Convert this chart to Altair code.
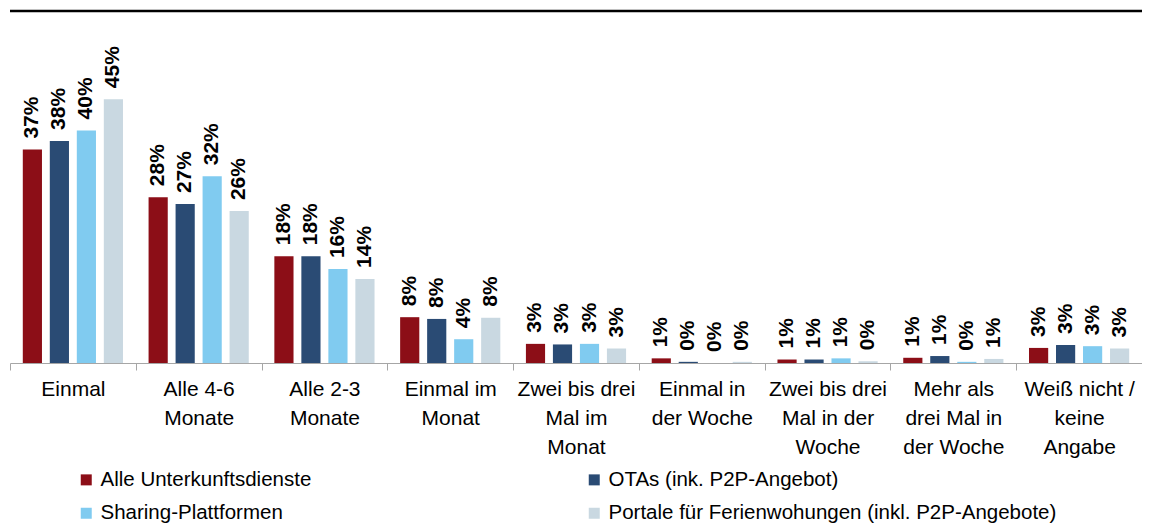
import altair as alt
import pandas as pd

categories = [
    "Einmal",
    "Alle 4-6|Monate",
    "Alle 2-3|Monate",
    "Einmal im|Monat",
    "Zwei bis drei|Mal im|Monat",
    "Einmal in|der Woche",
    "Zwei bis drei|Mal in der|Woche",
    "Mehr als|drei Mal in|der Woche",
    "Weiß nicht /|keine|Angabe",
]
series = [
    "Alle Unterkunftsdienste",
    "OTAs (ink. P2P-Angebot)",
    "Sharing-Plattformen",
    "Portale für Ferienwohungen (inkl. P2P-Angebote)",
]
colors = ["#8C0E17", "#2A4B74", "#80CBF0", "#C9D8E1"]

alle_vals = [36.8, 28.6, 18.4, 7.9, 3.3, 0.8, 0.6, 0.9, 2.6]
otas_vals = [38.3, 27.4, 18.4, 7.6, 3.2, 0.2, 0.6, 1.2, 3.1]
sharing_vals = [40.1, 32.2, 16.2, 4.1, 3.3, 0.0, 0.8, 0.2, 2.9]
portale_vals = [45.5, 26.2, 14.5, 7.8, 2.5, 0.2, 0.3, 0.7, 2.5]

alle_labels = ["37%", "28%", "18%", "8%", "3%", "1%", "1%", "1%", "3%"]
otas_labels = ["38%", "27%", "18%", "8%", "3%", "0%", "1%", "1%", "3%"]
sharing_labels = ["40%", "32%", "16%", "4%", "3%", "0%", "1%", "0%", "3%"]
portale_labels = ["45%", "26%", "14%", "8%", "3%", "0%", "0%", "1%", "3%"]

all_vals = [alle_vals, otas_vals, sharing_vals, portale_vals]
all_labels = [alle_labels, otas_labels, sharing_labels, portale_labels]

rows = []
for s, vals, labs in zip(series, all_vals, all_labels):
    for c, v, l in zip(categories, vals, labs):
        rows.append({"Kategorie": c, "Serie": s, "Wert": v, "Label": l})
df = pd.DataFrame(rows)

FONT = "Liberation Sans"
W = 1132
H = 352

x_enc = alt.X(
    "Kategorie:N",
    sort=categories,
    scale=alt.Scale(paddingInner=0, paddingOuter=0),
    axis=alt.Axis(
        title=None,
        labelAngle=0,
        tickBand="extent",
        domainColor="#A6A6A6",
        tickColor="#A6A6A6",
        tickSize=7,
        labelFont=FONT,
        labelFontSize=21,
        labelColor="#000000",
        labelLineHeight=29,
        labelPadding=8,
        labelOverlap=False,
        labelBound=False,
        labelLimit=0,
        labelExpr="split(datum.label, '|')",
    ),
)
xo_enc = alt.XOffset(
    "Serie:N",
    sort=series,
    scale=alt.Scale(paddingInner=0.29, paddingOuter=0.474),
)
y_enc = alt.Y(
    "Wert:Q",
    scale=alt.Scale(domain=[0, 60.7], nice=False, zero=True),
    axis=None,
)

base = alt.Chart(df)

bars = base.mark_bar().encode(
    x=x_enc,
    xOffset=xo_enc,
    y=y_enc,
    color=alt.Color(
        "Serie:N",
        sort=series,
        scale=alt.Scale(domain=series, range=colors),
        legend=alt.Legend(
            title=None,
            orient="none",
            direction="horizontal",
            legendX=66,
            legendY=458.5,
            columns=2,
            columnPadding=272,
            rowPadding=12.5,
            padding=0,
            symbolType="square",
            symbolSize=121,
            symbolStrokeWidth=0,
            labelOffset=4,
            labelFont=FONT,
            labelFontSize=20.5,
            labelColor="#000000",
            labelLimit=0,
        ),
    ),
)

texts = base.mark_text(
    angle=270,
    align="left",
    baseline="middle",
    dx=11,
    font=FONT,
    fontSize=21,
    fontWeight="bold",
    color="#000000",
).encode(
    x=alt.X("Kategorie:N", sort=categories),
    xOffset=alt.XOffset("Serie:N", sort=series),
    y=alt.Y("Wert:Q"),
    text="Label:N",
)

top_line = alt.Chart(pd.DataFrame({"a": [0]})).mark_rule(
    color="#000000", strokeWidth=2.5
).encode(x=alt.value(0), x2=alt.value(W), y=alt.value(0))

chart = (
    alt.layer(bars, texts, top_line)
    .properties(
        width=W,
        height=H,
        padding={"left": 2, "top": 3, "right": 0, "bottom": 161},
        autosize=alt.AutoSizeParams(type="none"),
    )
    .configure_view(stroke=None)
)

chart.save("out.html", embed_options={"renderer": "svg", "actions": False})
